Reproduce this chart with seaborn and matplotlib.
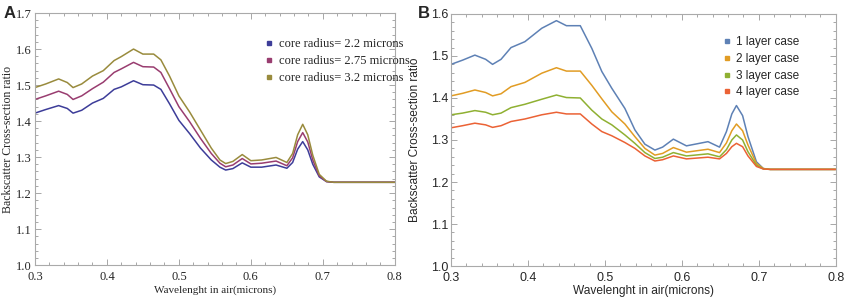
#!/usr/bin/env python3
"""Backscatter cross-section ratio vs wavelength: core radius (A) and layer count (B)."""
import matplotlib
matplotlib.use("Agg")
import matplotlib.pyplot as plt
from matplotlib.lines import Line2D
from matplotlib.ticker import MultipleLocator
import pandas as pd
import seaborn as sns

# ---- data, panel A (core radius) ----
wl_a = [0.300, 0.315, 0.333, 0.345, 0.353, 0.365, 0.380, 0.395, 0.410, 0.420,
        0.437, 0.450, 0.465, 0.475, 0.487, 0.500, 0.515, 0.530, 0.545, 0.557,
        0.565, 0.575, 0.588, 0.600, 0.615, 0.635, 0.650, 0.658, 0.665, 0.672,
        0.679, 0.686, 0.695, 0.705, 0.715, 0.800]
core_22 = [1.422, 1.432, 1.443, 1.435, 1.422, 1.430, 1.450, 1.463, 1.488, 1.495,
           1.512, 1.501, 1.500, 1.488, 1.448, 1.402, 1.365, 1.325, 1.292, 1.272,
           1.264, 1.268, 1.284, 1.272, 1.272, 1.278, 1.269, 1.285, 1.322, 1.343,
           1.320, 1.280, 1.245, 1.232, 1.230, 1.230]
core_275 = [1.460, 1.470, 1.483, 1.474, 1.460, 1.470, 1.490, 1.508, 1.535, 1.545,
            1.563, 1.551, 1.550, 1.535, 1.490, 1.440, 1.398, 1.352, 1.310, 1.283,
            1.273, 1.278, 1.296, 1.281, 1.283, 1.289, 1.276, 1.298, 1.343, 1.368,
            1.342, 1.292, 1.248, 1.232, 1.230, 1.230]
core_32 = [1.493, 1.503, 1.517, 1.507, 1.493, 1.503, 1.525, 1.540, 1.568, 1.579,
           1.600, 1.586, 1.586, 1.570, 1.525, 1.470, 1.425, 1.375, 1.325, 1.292,
           1.282, 1.288, 1.307, 1.290, 1.292, 1.299, 1.285, 1.310, 1.362, 1.391,
           1.362, 1.305, 1.252, 1.233, 1.230, 1.230]
labels_a = ["core radius= 2.2 microns", "core radius= 2.75 microns",
            "core radius= 3.2 microns"]
colors_a = ["#3d3d99", "#993d70", "#998b3d"]

# ---- data, panel B (number of layers) ----
wl_b = [0.300, 0.315, 0.331, 0.345, 0.354, 0.365, 0.378, 0.396, 0.418, 0.437,
        0.450, 0.468, 0.483, 0.496, 0.509, 0.526, 0.539, 0.552, 0.565, 0.575,
        0.589, 0.606, 0.634, 0.649, 0.658, 0.665, 0.671, 0.679, 0.686, 0.697,
        0.706, 0.715, 0.800]
layer_1 = [1.480, 1.490, 1.502, 1.492, 1.480, 1.492, 1.520, 1.534, 1.566, 1.584,
           1.572, 1.572, 1.518, 1.463, 1.423, 1.375, 1.324, 1.290, 1.276, 1.283,
           1.302, 1.286, 1.296, 1.283, 1.320, 1.362, 1.382, 1.358, 1.308, 1.248,
           1.232, 1.230, 1.230]
layer_2 = [1.405, 1.411, 1.419, 1.413, 1.405, 1.410, 1.427, 1.437, 1.459, 1.472,
           1.464, 1.464, 1.430, 1.398, 1.367, 1.338, 1.308, 1.280, 1.264, 1.268,
           1.282, 1.271, 1.278, 1.270, 1.293, 1.322, 1.338, 1.322, 1.288, 1.244,
           1.232, 1.230, 1.230]
layer_3 = [1.360, 1.364, 1.370, 1.366, 1.360, 1.364, 1.377, 1.385, 1.397, 1.407,
           1.401, 1.400, 1.371, 1.350, 1.336, 1.312, 1.292, 1.270, 1.256, 1.259,
           1.270, 1.262, 1.267, 1.260, 1.277, 1.300, 1.312, 1.300, 1.272, 1.240,
           1.231, 1.230, 1.230]
layer_4 = [1.329, 1.334, 1.340, 1.336, 1.330, 1.334, 1.344, 1.350, 1.360, 1.366,
           1.362, 1.362, 1.338, 1.320, 1.310, 1.294, 1.280, 1.262, 1.250, 1.253,
           1.262, 1.255, 1.259, 1.255, 1.268, 1.284, 1.292, 1.284, 1.262, 1.237,
           1.231, 1.230, 1.230]
labels_b = ["1 layer case", "2 layer case", "3 layer case", "4 layer case"]
colors_b = ["#5e81b5", "#e19c24", "#8fb032", "#eb6235"]


def long_form(wl, series, labels):
    parts = [pd.DataFrame({"wl": wl, "ratio": s, "case": lab})
             for s, lab in zip(series, labels)]
    return pd.concat(parts, ignore_index=True)


def style_frame(ax, ymax, fontfam, tick_size):
    ax.set_xlim(0.3, 0.8)
    ax.set_ylim(1.0, ymax)
    ax.xaxis.set_major_locator(MultipleLocator(0.1))
    ax.xaxis.set_minor_locator(MultipleLocator(0.02))
    ax.yaxis.set_major_locator(MultipleLocator(0.1))
    ax.yaxis.set_minor_locator(MultipleLocator(0.02))
    ax.tick_params(which="both", direction="in", top=True, right=True,
                   color="#999999", width=0.6)
    ax.tick_params(which="major", length=4, labelsize=tick_size, pad=2)
    ax.tick_params(axis="x", which="major", pad=4)
    ax.tick_params(which="minor", length=2)
    for sp in ax.spines.values():
        sp.set_visible(True)
        sp.set_color("#aaaaaa")
        sp.set_linewidth(0.8)
    for lab in ax.get_xticklabels() + ax.get_yticklabels():
        lab.set_family(fontfam)


def add_legend(ax, labels, colors, fontfam, size, loc):
    handles = [Line2D([], [], ls="none", marker="s", ms=2.5, color=c) for c in colors]
    ax.legend(handles, labels, loc="upper left", bbox_to_anchor=loc, frameon=False,
              handlelength=0.6, handletextpad=0.5, labelspacing=0.4,
              prop={"family": fontfam, "size": size}, borderaxespad=0)


sns.set_style("ticks")
fig = plt.figure(figsize=(8.51, 3.03), dpi=100)
ax_a = fig.add_axes([0.041, 0.125, 0.423, 0.832])
ax_b = fig.add_axes([0.530, 0.122, 0.452, 0.832])

# ---- panel A ----
df_a = long_form(wl_a, [core_22, core_275, core_32], labels_a)
sns.lineplot(data=df_a, x="wl", y="ratio", hue="case", palette=colors_a,
             lw=1.1, legend=False, ax=ax_a)
style_frame(ax_a, 1.7, "Liberation Serif", 9)
ax_a.set_xlabel("Wavelenght in air(microns)", family="Liberation Serif",
                fontsize=8, labelpad=2)
ax_a.set_ylabel("Backscatter Cross-section ratio", family="Liberation Serif",
                fontsize=8.5)
ax_a.yaxis.set_label_coords(-0.058, 0.5)
add_legend(ax_a, labels_a, colors_a, "Liberation Serif", 9, (0.625, 0.92))
fig.text(0.004, 0.955, "A", fontsize=12, fontweight="bold", family="Liberation Sans",
         va="center")

# ---- panel B ----
df_b = long_form(wl_b, [layer_1, layer_2, layer_3, layer_4], labels_b)
sns.lineplot(data=df_b, x="wl", y="ratio", hue="case", palette=colors_b,
             lw=1.1, legend=False, ax=ax_b)
style_frame(ax_b, 1.6, "Liberation Sans", 9)
ax_b.set_xlabel("Wavelenght in air(microns)", family="Liberation Sans",
                fontsize=8.6, labelpad=1)
ax_b.set_ylabel("Backscatter Cross-section ratio", family="Liberation Sans",
                fontsize=8.6)
ax_b.yaxis.set_label_coords(-0.079, 0.5)
add_legend(ax_b, labels_b, colors_b, "Liberation Sans", 8.5, (0.695, 0.93))
fig.text(0.491, 0.955, "B", fontsize=12, fontweight="bold", family="Liberation Sans",
         va="center")

fig.savefig("out.png", dpi=100)
